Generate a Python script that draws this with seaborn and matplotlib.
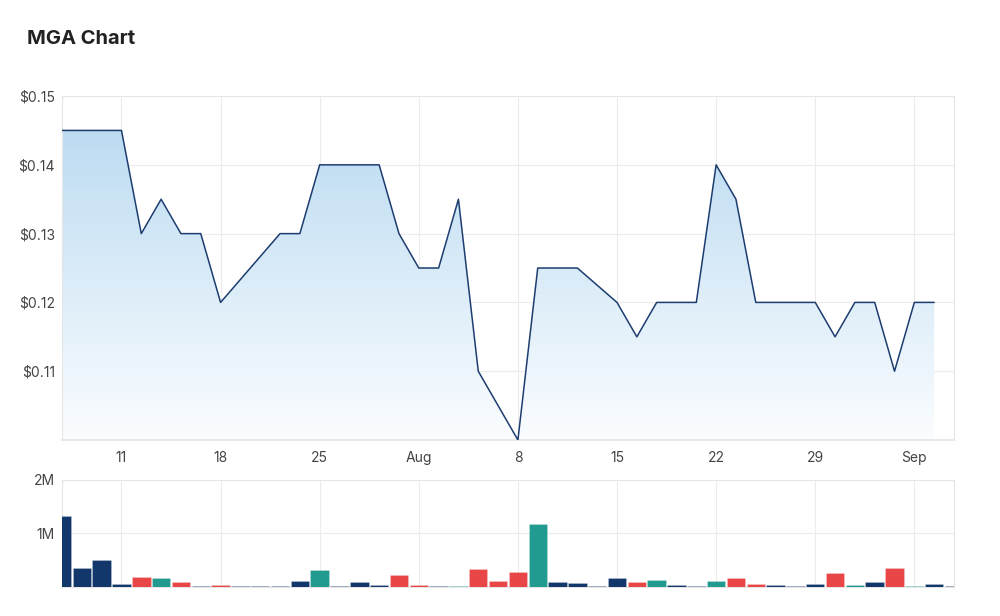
import numpy as np
import pandas as pd
import seaborn as sns
import matplotlib.pyplot as plt
from matplotlib.ticker import FuncFormatter

# trading days shown on the chart (weekdays only)
dates = pd.bdate_range("2022-07-06", periods=46)

# closing price, None where no price point is drawn
price = [0.145, 0.145, 0.145, 0.145, 0.13, 0.135, 0.13, 0.13, 0.12, None,
         None, 0.13, 0.13, 0.14, 0.14, 0.14, 0.14, 0.13, 0.125, 0.125,
         0.135, 0.11, 0.105, 0.10, 0.125, 0.125, 0.125, None, 0.12, 0.115,
         0.12, 0.12, 0.12, 0.14, 0.135, 0.12, 0.12, 0.12, 0.12, 0.115,
         0.12, 0.12, 0.11, 0.12, 0.12, None]

# traded volume and bar colour group
volume = [1330000, 350000, 510000, 62000, 185000, 167000, 86000, 16000, 43000, 15000,
          15000, 15000, 105000, 310000, 15000, 86000, 30000, 222000, 30000, 25000,
          25000, 327000, 105000, 285000, 1185000, 93000, 68000, 16000, 173000, 86000,
          130000, 43000, 16000, 111000, 173000, 50000, 30000, 16000, 50000, 253000,
          30000, 93000, 352000, 16000, 50000, 15000]
move = ["flat", "flat", "flat", "flat", "down", "up", "down", "flat", "down", "flat",
        "flat", "flat", "flat", "up", "flat", "flat", "flat", "down", "down", "flat",
        "up", "down", "down", "down", "up", "flat", "flat", "flat", "flat", "down",
        "up", "flat", "flat", "up", "down", "down", "flat", "flat", "flat", "down",
        "up", "flat", "down", "up", "flat", "flat"]

price_ticks = [0.11, 0.12, 0.13, 0.14, 0.15]
volume_ticks = [1000000, 2000000]

df = pd.DataFrame({"date": dates, "price": price, "volume": volume, "move": move})
df["idx"] = np.arange(len(df))
pdf = df.dropna(subset=["price"])

# weekly ticks on Mondays, month name for the first Monday of a month
mondays = df[df["date"].dt.dayofweek == 0]
tick_pos = mondays["idx"].tolist()
tick_lab = [d.strftime("%b") if d.day <= 7 else str(d.day) for d in mondays["date"]]

sns.set_style("white")
plt.rcParams["font.family"] = ["Inter", "DejaVu Sans"]

grid_c = "#ececec"
text_c = "#444444"

fig = plt.figure(figsize=(10, 6.16), dpi=100)
ax = fig.add_axes([0.062, 0.2857, 0.892, 0.5584])
ax2 = fig.add_axes([0.062, 0.0471, 0.892, 0.1737])

# price area with vertical gradient
poly = ax.fill_between(pdf["idx"], pdf["price"], 0.10, facecolor="none", edgecolor="none")
grad = np.zeros((256, 1, 4))
top = np.array([189, 220, 242]) / 255
bot = np.array([251, 253, 255]) / 255
t = np.linspace(0, 1, 256)
grad[:, 0, :3] = bot + (top - bot) * t[:, None]
grad[:, 0, 3] = 1
im = ax.imshow(grad, extent=[pdf["idx"].min(), pdf["idx"].max(), 0.10, pdf["price"].max()],
               aspect="auto", origin="lower", zorder=1)
im.set_clip_path(poly.get_paths()[0], transform=ax.transData)

sns.lineplot(data=pdf, x="idx", y="price", ax=ax, color="#1d3d70", linewidth=1.1, zorder=3)

ax.set_xlim(0, 45)
ax.set_ylim(0.10, 0.15)
ax.set_yticks(price_ticks)
ax.yaxis.set_major_formatter(FuncFormatter(lambda v, p: f"${v:.2f}"))
ax.set_xticks(tick_pos)
ax.set_xticklabels(tick_lab)
ax.set_xlabel("")
ax.set_ylabel("")
ax.grid(True, color=grid_c, linewidth=0.8)
ax.set_axisbelow(True)

# volume bars
pal = {"flat": "#12376b", "down": "#e84647", "up": "#219a8f"}
sns.barplot(data=df, x="idx", y="volume", hue="move", palette=pal, native_scale=True,
            dodge=False, width=0.93, errorbar=None, legend=False, ax=ax2,
            saturation=1, edgecolor=(1, 1, 1, 0.35), linewidth=0.4, zorder=3)
ax2.set_xlim(0, 45)
ax2.set_ylim(0, 2000000)
ax2.set_yticks(volume_ticks)
ax2.yaxis.set_major_formatter(FuncFormatter(lambda v, p: f"{v / 1e6:.0f}M"))
ax2.set_xticks(tick_pos)
ax2.set_xticklabels([])
ax2.set_xlabel("")
ax2.set_ylabel("")
ax2.grid(True, color=grid_c, linewidth=0.8)
ax2.set_axisbelow(True)

for a in (ax, ax2):
    for s in a.spines.values():
        s.set_color("#e6e6e6")
        s.set_linewidth(0.8)
    a.tick_params(length=0, labelsize=10, labelcolor=text_c)
    a.tick_params(axis="y", pad=5)
    a.tick_params(axis="x", pad=8)
ax.spines["bottom"].set_linewidth(1.3)

fig.text(0.027, 1 - 39 / 616, "MGA Chart", fontsize=14.5, fontweight="bold",
         va="center", color="#222222")

plt.savefig("out.png", dpi=100)
